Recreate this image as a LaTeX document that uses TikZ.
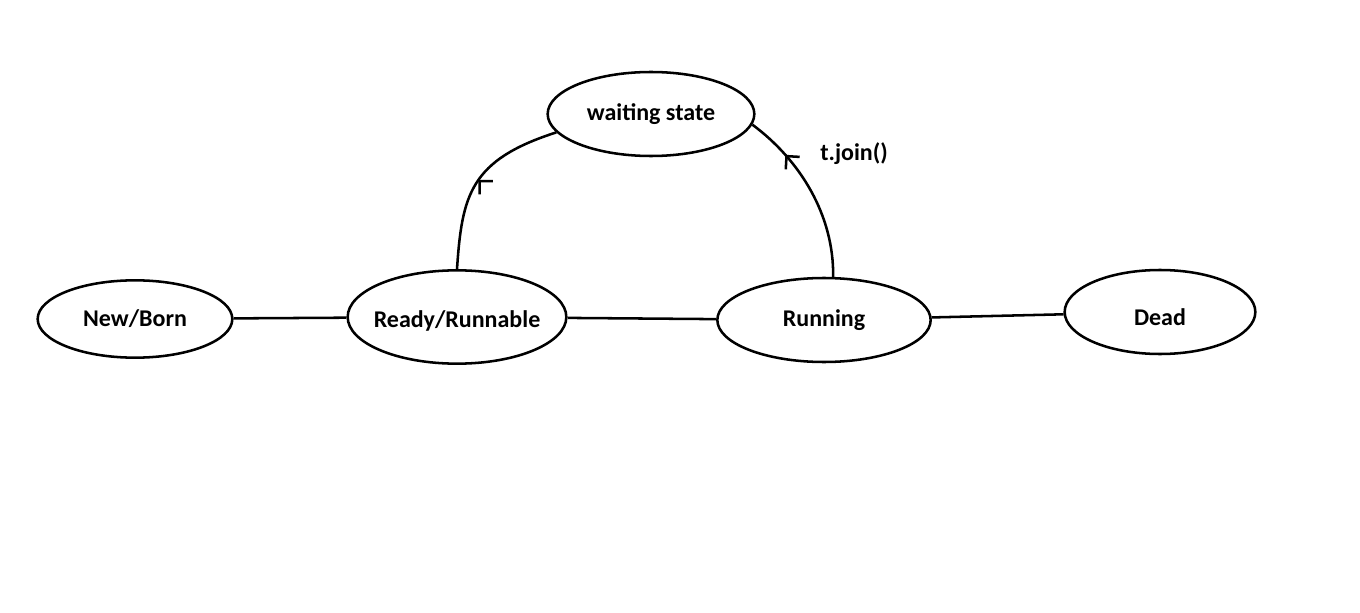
\documentclass[tikz,border=0pt]{standalone}
\usepackage{fontspec}
\setmainfont{Carlito}
\usetikzlibrary{shapes.geometric,arrows.meta,decorations.markings}

\begin{document}
\begin{tikzpicture}[x=0.75pt,y=-0.75pt,line width=1.9pt,
		state/.style={ellipse,draw,inner sep=-20pt,font=\bfseries\fontsize{18}{21}\selectfont},
		barb/.style={postaction={decorate},decoration={markings,mark=at position #1 with {\arrow{Straight Barb[length=7pt,width=14pt]}}}},
		turnedbarb/.style={postaction={decorate},decoration={markings,mark=at position #1 with {\pgftransformrotate{80}\arrow{Straight Barb[length=7pt,width=14pt]}}}}]
	\useasboundingbox (0,0) rectangle (1360,613);
	\node[state,minimum width=146pt,minimum height=58pt] (newborn) at (135,319) {New/Born};
	\node[state,minimum width=164pt,minimum height=70pt,text height=18pt] (ready) at (457,317) {Ready/Runnable};
	\node[state,minimum width=160pt,minimum height=63pt] (running) at (824,320) {Running};
	\node[state,minimum width=143pt,minimum height=63pt,text height=20pt] (dead) at (1160,312) {Dead};
	\node[state,minimum width=155pt,minimum height=63pt] (waiting) at (651,114) {waiting state};
	\node[font=\bfseries\fontsize{18}{21}\selectfont] (join) at (854,154) {t.join()};
	\draw (newborn) -- (ready);
	\draw (ready) -- (running);
	\draw (running) -- (dead);
	\draw[turnedbarb=0.5] (ready.north) .. controls (462,195) and (470,160) .. (waiting.191);
	\draw[barb=0.75] (running.78) .. controls (834,215) and (800,160) .. (waiting.-6);
\end{tikzpicture}
\end{document}
